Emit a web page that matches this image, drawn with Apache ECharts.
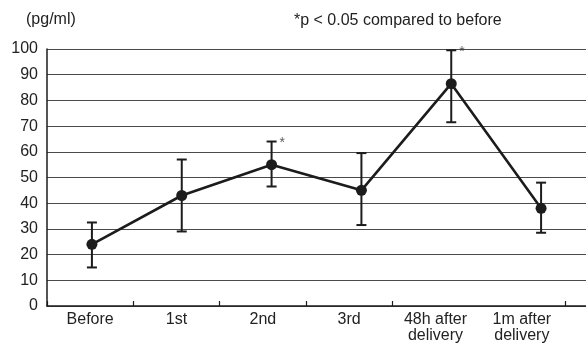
<!DOCTYPE html>
<html>
<head>
<meta charset="utf-8">
<script src="https://cdn.jsdelivr.net/npm/echarts@6/dist/echarts.min.js"></script>
<style>
  html, body { margin: 0; padding: 0; background: #fff; }
  #chart { width: 586px; height: 356px; }
</style>
</head>
<body>
<div id="chart"></div>
<script>
// Time points across pregnancy and after delivery
const categories = ['Before', '1st', '2nd', '3rd', '48h after\ndelivery', '1m after\ndelivery'];
// Mean concentration (pg/ml) with upper / lower error bar ends
const means = [24, 43, 55, 45, 86.5, 38];
const upperBars = [32.5, 57, 64, 59.5, 99.5, 48];
const lowerBars = [15, 29, 46.5, 31.5, 71.5, 28.5];
// Points marked significant (*p < 0.05 vs. before)
const significant = [false, false, true, false, true, false];
const yTicks = { min: 0, max: 100, interval: 10 };

const FONT = '"Liberation Sans", Arial, Helvetica, sans-serif';
const INK = '#1c1c1c';

const errorData = categories.map((c, i) => [i, lowerBars[i], upperBars[i]]);
const starData = categories
  .map((c, i) => (significant[i] ? [i, upperBars[i]] : null))
  .filter(Boolean);

const chart = echarts.init(document.getElementById('chart'), null, { renderer: 'canvas' });

chart.setOption({
  backgroundColor: '#fff',
  animation: false,
  textStyle: { fontFamily: FONT },
  title: [
    { text: '(pg/ml)', left: 21, top: 7,
      textStyle: { fontSize: 16, fontWeight: 'normal', color: '#222', fontFamily: FONT } },
    { text: '*p < 0.05 compared to before', left: 289, top: 8,
      textStyle: { fontSize: 16, fontWeight: 'normal', color: '#222', fontFamily: FONT } }
  ],
  grid: [
    { left: 47, top: 49, bottom: 50, right: -3 },
    { left: 47, top: 49, bottom: 50, width: 518 }
  ],
  xAxis: [
    {
      type: 'category', gridIndex: 0, data: categories, boundaryGap: true,
      axisLine: { show: true, lineStyle: { color: INK, width: 1.5 } },
      axisTick: { show: false },
      axisLabel: { show: false },
      splitLine: { show: false }
    },
    {
      type: 'category', gridIndex: 1, data: categories, boundaryGap: true,
      axisLine: { show: false },
      axisTick: { show: true, inside: true, length: 5, interval: (i) => i < 5,
                  lineStyle: { color: INK, width: 1.2 } },
      axisLabel: { show: true, margin: 6, fontSize: 16, lineHeight: 16, color: '#222', fontFamily: FONT, interval: 0 },
      splitLine: { show: false }
    }
  ],
  yAxis: [
    {
      type: 'value', gridIndex: 0, min: yTicks.min, max: yTicks.max, interval: yTicks.interval,
      axisLine: { show: true, lineStyle: { color: INK, width: 1.5 } },
      axisTick: { show: false },
      axisLabel: { margin: 9, fontSize: 16, color: '#222', fontFamily: FONT },
      splitLine: { show: true, lineStyle: { color: '#4a4a4a', width: 1.2 } }
    },
    {
      type: 'value', gridIndex: 1, min: yTicks.min, max: yTicks.max, show: false
    }
  ],
  series: [
    {
      name: 'range',
      type: 'custom',
      xAxisIndex: 0, yAxisIndex: 0,
      data: errorData,
      z: 3,
      renderItem: function (params, api) {
        const x = api.value(0);
        const lo = api.coord([x, api.value(1)]);
        const hi = api.coord([x, api.value(2)]);
        const half = 5;
        const style = { stroke: INK, lineWidth: 2 };
        return {
          type: 'group',
          children: [
            { type: 'line', shape: { x1: hi[0], y1: hi[1], x2: lo[0], y2: lo[1] }, style: style },
            { type: 'line', shape: { x1: hi[0] - half, y1: hi[1], x2: hi[0] + half, y2: hi[1] }, style: style },
            { type: 'line', shape: { x1: lo[0] - half, y1: lo[1], x2: lo[0] + half, y2: lo[1] }, style: style }
          ]
        };
      }
    },
    {
      name: 'mean',
      type: 'line',
      xAxisIndex: 0, yAxisIndex: 0,
      data: means,
      z: 4,
      symbol: 'circle',
      symbolSize: 11,
      itemStyle: { color: INK },
      lineStyle: { color: INK, width: 2.6 }
    },
    {
      name: 'significance',
      type: 'scatter',
      xAxisIndex: 0, yAxisIndex: 0,
      data: starData,
      symbolSize: 0,
      z: 5,
      label: {
        show: true, formatter: '*', position: 'right', distance: 8, offset: [0, 2],
        fontSize: 14, color: '#333', fontFamily: FONT
      }
    }
  ]
});
</script>
</body>
</html>
